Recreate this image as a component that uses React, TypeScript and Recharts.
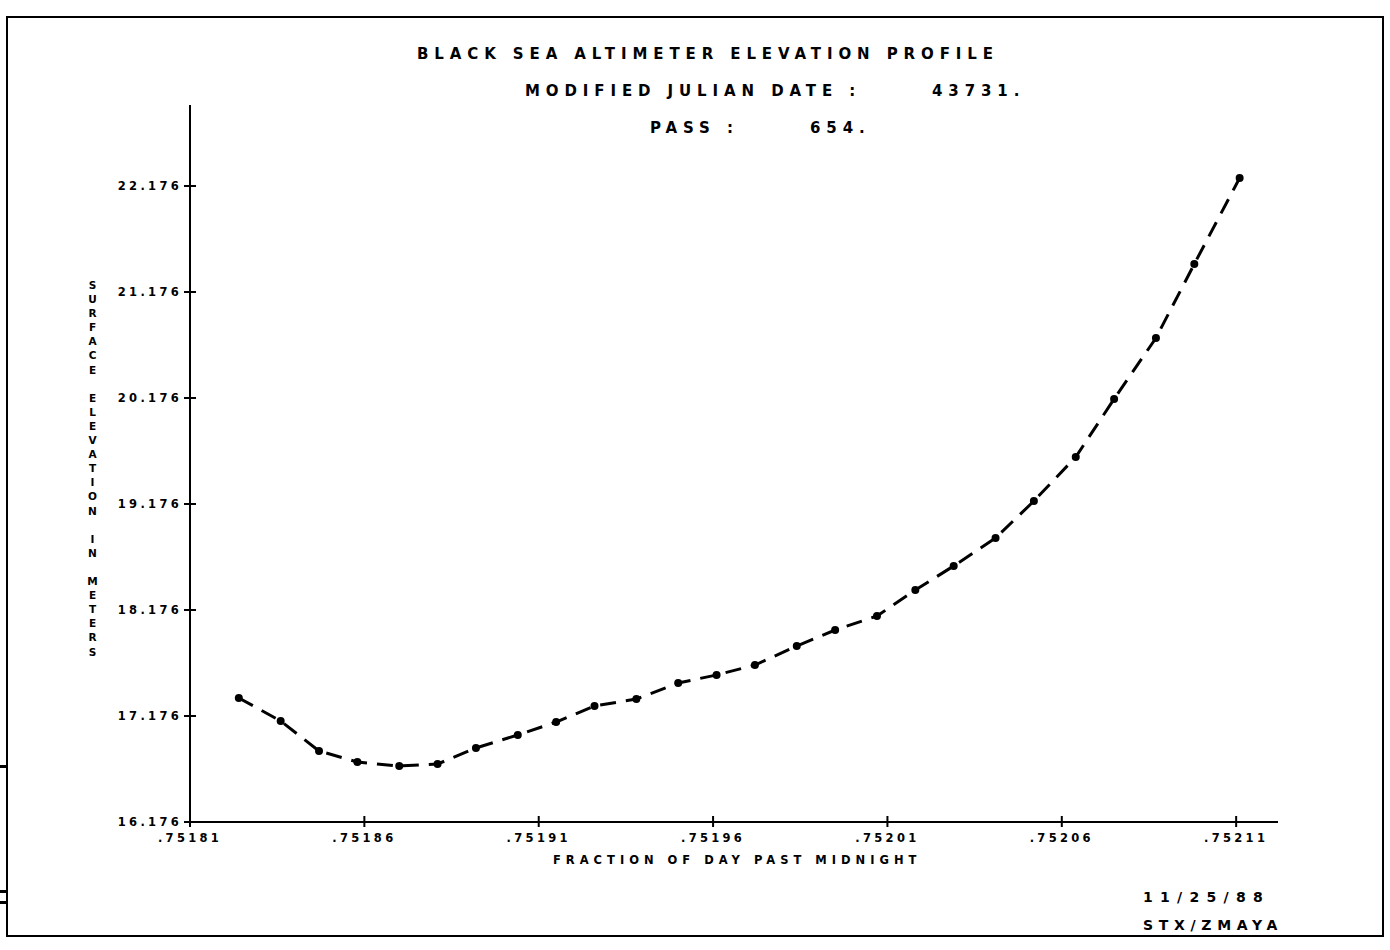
import { LineChart, Line, XAxis, YAxis } from "recharts";

// fraction of day past midnight for each altimeter sample
const dayFraction = [
  0.751824, 0.751836, 0.751847, 0.751858, 0.75187, 0.751881, 0.751892, 0.751904,
  0.751915, 0.751926, 0.751938, 0.75195, 0.751961, 0.751972, 0.751984, 0.751995,
  0.752007, 0.752018, 0.752029, 0.752041, 0.752052, 0.752064, 0.752075, 0.752087,
  0.752098, 0.752111,
];

// surface elevation in meters
const elevation = [
  17.346, 17.129, 16.846, 16.742, 16.704, 16.723, 16.874, 16.997,
  17.119, 17.27, 17.336, 17.487, 17.563, 17.657, 17.836, 17.987,
  18.119, 18.365, 18.591, 18.855, 19.204, 19.619, 20.167, 20.742,
  21.44, 22.251,
];

const xTicks = [0.75181, 0.75186, 0.75191, 0.75196, 0.75201, 0.75206, 0.75211];
const yTicks = [16.176, 17.176, 18.176, 19.176, 20.176, 21.176, 22.176];

const data = dayFraction.map((t, i) => ({ t, z: elevation[i] }));

const FONT = "'DejaVu Sans', sans-serif";

function YTick({ x, y, payload }: any) {
  return (
    <g>
      <line x1={x - 6} x2={x + 6} y1={y} y2={y} stroke="#000" strokeWidth={2} />
      <text
        x={x - 8}
        y={y}
        dy={4}
        textAnchor="end"
        fontFamily={FONT}
        fontWeight="bold"
        fontSize={11.5}
        letterSpacing={3.3}
        fill="#000"
      >
        {payload.value.toFixed(3)}
      </text>
    </g>
  );
}

function XTick({ x, y, payload }: any) {
  return (
    <g>
      <line x1={x} x2={x} y1={y - 6} y2={y + 5} stroke="#000" strokeWidth={2} />
      <text
        x={x}
        y={y + 20}
        textAnchor="middle"
        fontFamily={FONT}
        fontWeight="bold"
        fontSize={11.5}
        letterSpacing={3.3}
        fill="#000"
      >
        {payload.value.toFixed(5).slice(1)}
      </text>
    </g>
  );
}

const txt = (left: number, top: number, size: number, spacing: number, s: string) => (
  <div
    style={{
      position: "absolute",
      left,
      top,
      fontFamily: FONT,
      fontWeight: "bold",
      fontSize: size,
      letterSpacing: spacing,
      whiteSpace: "pre",
      lineHeight: 1,
      color: "#000",
    }}
  >
    {s}
  </div>
);

export default function App() {
  return (
    <div style={{ position: "relative", width: 1390, height: 950, background: "#fff", overflow: "hidden" }}>
      <style>{`body{margin:0}`}</style>
      {/* scanned page frame */}
      <div
        style={{
          position: "absolute",
          left: 6,
          top: 16,
          width: 1374,
          height: 917,
          border: "2px solid #000",
        }}
      />
      <div style={{ position: "absolute", left: 0, top: 765, width: 8, height: 3, background: "#000" }} />
      <div style={{ position: "absolute", left: 0, top: 890, width: 8, height: 3, background: "#000" }} />
      <div style={{ position: "absolute", left: 0, top: 901, width: 8, height: 3, background: "#000" }} />

      <LineChart
        width={1390}
        height={950}
        data={data}
        margin={{ top: 105, right: 112, left: 90, bottom: 88 }}
        style={{ position: "absolute", left: 0, top: 0 }}
      >
        <XAxis
          dataKey="t"
          type="number"
          domain={[0.75181, 0.752122]}
          ticks={xTicks}
          allowDataOverflow
          height={40}
          axisLine={{ stroke: "#000", strokeWidth: 2 }}
          tickLine={false}
          tickSize={0}
          tickMargin={0}
          tick={<XTick />}
          interval={0}
        />
        <YAxis
          type="number"
          domain={[16.176, 22.94]}
          ticks={yTicks}
          allowDataOverflow
          width={100}
          axisLine={{ stroke: "#000", strokeWidth: 2 }}
          tickLine={false}
          tickSize={0}
          tickMargin={0}
          tick={<YTick />}
          interval={0}
        />
        <Line
          dataKey="z"
          type="linear"
          stroke="#000"
          strokeWidth={3}
          strokeDasharray="16 10"
          isAnimationActive={false}
          dot={(p: any) => <circle key={p.index} cx={p.cx} cy={p.cy} r={4} fill="#000" stroke="none" />}
        />
      </LineChart>

      {txt(417, 47, 15, 5.9, "BLACK SEA ALTIMETER ELEVATION PROFILE")}
      {txt(525, 84, 15, 5.9, "MODIFIED JULIAN DATE :")}
      {txt(932, 84, 15, 5.9, "43731.")}
      {txt(650, 121, 15, 5.9, "PASS :")}
      {txt(810, 121, 15, 5.9, "654.")}
      {txt(553, 855, 11.5, 5, "FRACTION OF DAY PAST MIDNIGHT")}
      {txt(1143, 890, 14, 7.3, "11/25/88")}
      {txt(1143, 918, 14, 5.7, "STX/ZMAYA")}

      <div
        style={{
          position: "absolute",
          left: 87,
          top: 279,
          fontFamily: FONT,
          fontWeight: "bold",
          fontSize: 10.5,
          letterSpacing: 2.1,
          writingMode: "vertical-lr",
          textOrientation: "upright",
          whiteSpace: "pre",
          lineHeight: 1,
          color: "#000",
        }}
      >
        SURFACE ELEVATION IN METERS
      </div>
    </div>
  );
}
